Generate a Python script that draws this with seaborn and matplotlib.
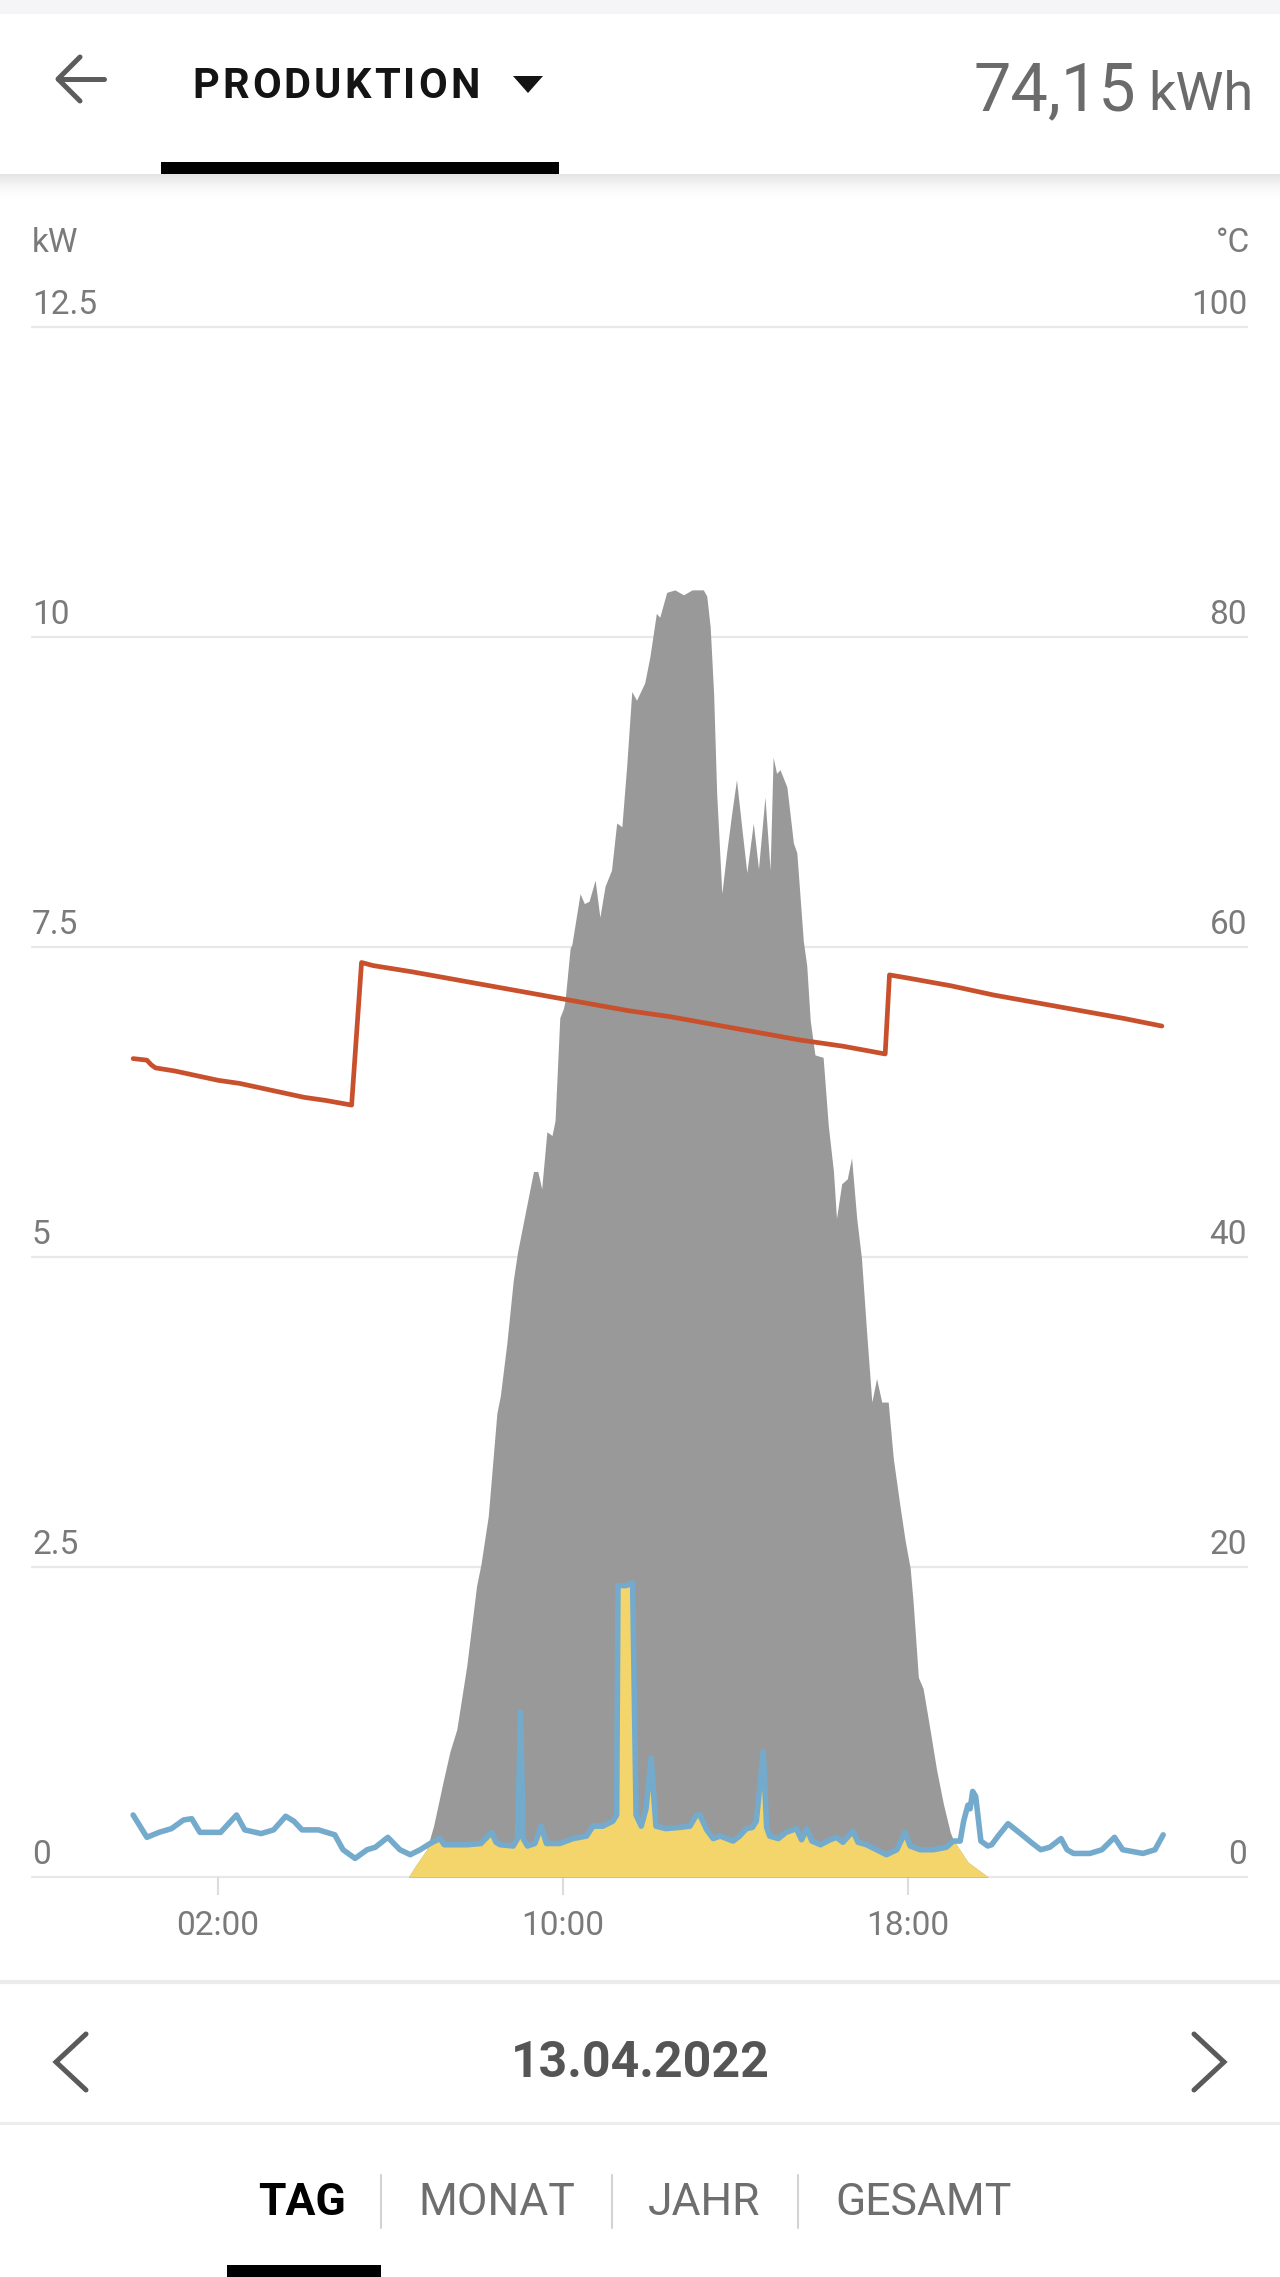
import matplotlib
matplotlib.use("Agg")
import matplotlib.pyplot as plt
import seaborn as sns
from matplotlib.patches import Rectangle, Polygon

# ---- values ----
kw_ticks = [0, 2.5, 5, 7.5, 10, 12.5]
kw_tick_labels = ["0", "2.5", "5", "7.5", "10", "12.5"]
temp_ticks = [0, 20, 40, 60, 80, 100]
temp_tick_labels = ["0", "20", "40", "60", "80", "100"]
hour_ticks = [2, 10, 18]
hour_tick_labels = ["02:00", "10:00", "18:00"]

# production (kW), grey area
prod_hours = [6.42, 6.60, 6.84, 7.00, 7.23, 7.38, 7.54, 7.77, 8.00, 8.10, 8.27, 8.47,
              8.55, 8.70, 8.85, 8.95, 9.16, 9.32, 9.42, 9.51, 9.63, 9.75, 9.82, 9.93,
              10.01, 10.05, 10.17, 10.21, 10.40, 10.50, 10.61, 10.75, 10.86, 10.98,
              11.13, 11.25, 11.37, 11.48, 11.60, 11.71, 11.90, 12.02, 12.17, 12.25,
              12.41, 12.60, 12.80, 13.00, 13.26, 13.34, 13.42, 13.50, 13.57, 13.69,
              13.80, 13.92, 14.03, 14.15, 14.27, 14.42, 14.54, 14.69, 14.81, 14.88,
              14.96, 15.04, 15.20, 15.35, 15.43, 15.58, 15.66, 15.74, 15.85, 16.04,
              16.16, 16.28, 16.35, 16.47, 16.60, 16.70, 16.82, 16.93, 17.05, 17.17,
              17.28, 17.40, 17.55, 17.67, 17.82, 17.94, 18.06, 18.13, 18.25, 18.36,
              18.52, 18.67, 18.83, 18.99, 19.06, 19.40, 19.87]
prod_kw = [0.0, 0.10, 0.22, 0.41, 0.78, 1.01, 1.19, 1.70, 2.35, 2.52, 2.91, 3.74,
           3.88, 4.30, 4.81, 5.04, 5.41, 5.69, 5.69, 5.55, 6.01, 5.98, 6.10, 6.93,
           7.00, 7.06, 7.49, 7.52, 7.93, 7.85, 7.87, 8.04, 7.74, 7.99,
           8.12, 8.50, 8.47, 8.95, 9.56, 9.49, 9.63, 9.84, 10.19, 10.16,
           10.36, 10.38, 10.34, 10.38, 10.38, 10.33, 10.08, 9.54, 8.74, 7.93,
           8.26, 8.58, 8.85, 8.47, 8.10, 8.50, 8.13, 8.71, 8.12, 9.03,
           8.90, 8.93, 8.79, 8.34, 8.26, 7.55, 7.35, 6.91, 6.63, 6.61,
           6.06, 5.69, 5.31, 5.59, 5.63, 5.80, 5.31, 4.99, 4.39, 3.83,
           4.02, 3.83, 3.83, 3.37, 3.00, 2.72, 2.49, 2.21, 1.61, 1.52,
           1.19, 0.87, 0.59, 0.36, 0.30, 0.12, 0.0]

# consumption (kW), blue line
cons_hours = [0.03, 0.35, 0.63, 0.92, 1.20, 1.39, 1.58, 2.06, 2.43, 2.62, 3.00, 3.29,
              3.57, 3.76, 3.95, 4.33, 4.71, 4.90, 5.18, 5.46, 5.65, 5.94, 6.22, 6.46,
              6.69, 6.92, 7.15, 7.25, 7.46, 7.77, 8.10, 8.35, 8.45, 8.55, 8.85, 8.95,
              9.02, 9.08, 9.18, 9.35, 9.50, 9.62, 9.93, 10.24, 10.55, 10.70, 10.93,
              11.16, 11.25, 11.28, 11.47, 11.62, 11.70, 11.82, 11.93, 12.05, 12.16,
              12.39, 12.70, 12.95, 13.10, 13.18, 13.34, 13.49, 13.65, 13.80, 13.95,
              14.10, 14.26, 14.40, 14.49, 14.65, 14.73, 14.80, 15.00, 15.18, 15.42,
              15.54, 15.66, 15.78, 15.98, 16.20, 16.35, 16.50, 16.73, 16.85, 17.05,
              17.28, 17.51, 17.75, 17.94, 18.06, 18.29, 18.60, 18.90, 19.06, 19.22,
              19.30, 19.40, 19.45, 19.51, 19.58, 19.70, 19.86, 19.95, 20.10, 20.33,
              20.62, 20.90, 21.09, 21.30, 21.56, 21.70, 21.85, 22.23, 22.51, 22.80,
              22.99, 23.46, 23.74, 23.93]
cons_kw = [0.50, 0.32, 0.36, 0.39, 0.46, 0.47, 0.36, 0.36, 0.50, 0.38, 0.35, 0.38,
           0.49, 0.45, 0.38, 0.38, 0.34, 0.22, 0.15, 0.22, 0.24, 0.32, 0.22, 0.18,
           0.22, 0.27, 0.31, 0.26, 0.26, 0.26, 0.27, 0.36, 0.28, 0.26, 0.25, 0.31,
           1.33, 0.31, 0.25, 0.27, 0.41, 0.27, 0.27, 0.31, 0.33, 0.41, 0.41,
           0.45, 0.50, 2.35, 2.35, 2.37, 0.50, 0.41, 0.55, 0.96, 0.41,
           0.39, 0.40, 0.41, 0.50, 0.50, 0.38, 0.31, 0.33, 0.31, 0.29,
           0.33, 0.39, 0.40, 0.45, 1.01, 0.40, 0.33, 0.31, 0.36, 0.39,
           0.30, 0.39, 0.29, 0.26, 0.30, 0.32, 0.28, 0.37, 0.28, 0.26,
           0.22, 0.18, 0.22, 0.36, 0.25, 0.22, 0.22, 0.24, 0.29, 0.29,
           0.45, 0.58, 0.55, 0.69, 0.65, 0.29, 0.25, 0.26, 0.33, 0.43,
           0.35, 0.27, 0.22, 0.24, 0.31, 0.22, 0.19, 0.19, 0.22, 0.32,
           0.22, 0.19, 0.22, 0.34]

# temperature (degC), right axis, orange line
temp_hours = [0.03, 0.35, 0.45, 0.55, 1.0, 1.5, 2.0, 2.5, 3.0, 3.5, 4.0, 4.5, 5.10,
              5.33, 5.6, 6.5, 7.5, 8.5, 9.5, 10.5, 11.5, 12.5, 13.5, 14.5, 15.5,
              16.5, 17.48, 17.58, 18.0, 19.0, 20.0, 21.0, 22.0, 23.0, 23.9]
temp_c = [52.8, 52.7, 52.4, 52.2, 52.0, 51.7, 51.4, 51.2, 50.9, 50.6, 50.3, 50.1, 49.8,
          59.0, 58.8, 58.4, 57.9, 57.4, 56.9, 56.4, 55.9, 55.5, 55.0, 54.5, 54.0,
          53.6, 53.1, 58.2, 58.0, 57.5, 56.9, 56.4, 55.9, 55.4, 54.9]

title = "PRODUKTION"
total_value = "74,15"
total_unit = "kWh"
date_label = "13.04.2022"
tabs = ["TAG", "MONAT", "JAHR", "GESAMT"]

GRAY = "#999999"
YELLOW = "#f4d56c"
BLUE = "#74abcd"
ORANGE = "#c9502c"
GRID = "#e8e8e8"
TICK = "#7a7a7a"

sns.set_theme(style="white")
plt.rcParams["font.family"] = ["Roboto", "DejaVu Sans"]

W, H = 1280, 2277
fig = plt.figure(figsize=(W / 100, H / 100), dpi=100)
fig.patch.set_facecolor("white")

# full-figure overlay in pixel coords for the app chrome
ui = fig.add_axes([0, 0, 1, 1])
ui.set_xlim(0, W)
ui.set_ylim(H, 0)
ui.axis("off")
ui.patch.set_visible(False)

# chart axes: gridline x-span 32..1247 px, y 327..1877 px
ax = fig.add_axes([32 / W, 1 - 1877 / H, (1247 - 32) / W, (1877 - 327) / H])
ax.set_xlim(-2.316, 25.875)
ax.set_ylim(0, 12.5)
for s in ax.spines.values():
    s.set_visible(False)
ax.patch.set_visible(False)

for v in kw_ticks:
    ax.axhline(v, color=GRID, lw=1.6, zorder=0, clip_on=False)

ax.fill_between(prod_hours, 0, prod_kw, color=GRAY, lw=0, zorder=1)
cons_area = ax.fill_between(cons_hours, 0, cons_kw, color="none", lw=0)
self_use = ax.fill_between(prod_hours, 0, prod_kw, color=YELLOW, lw=0, zorder=2)
self_use.set_clip_path(cons_area.get_paths()[0], ax.transData)
sns.lineplot(x=cons_hours, y=cons_kw, ax=ax, color=BLUE, linewidth=4.0, zorder=3)

ax.set_yticks([])
ax.set_xticks(hour_ticks)
ax.tick_params(axis="x", bottom=True, length=13, width=1.5, color="#dcdcdc",
               labelbottom=False, direction="out")
ax.set_xlabel("")
ax.set_ylabel("")

for v, lbl in zip(kw_ticks, kw_tick_labels):
    ax.annotate(lbl, xy=(0, v), xycoords=("axes fraction", "data"),
                xytext=(0, 13 * 0.72), textcoords="offset points",
                ha="left", va="baseline", fontsize=24, color=TICK, annotation_clip=False)
for h, lbl in zip(hour_ticks, hour_tick_labels):
    ax.annotate(lbl, xy=(h, 0), xycoords=("data", "axes fraction"),
                xytext=(0, -58 * 0.72), textcoords="offset points",
                ha="center", va="baseline", fontsize=24, color=TICK, annotation_clip=False)

ax2 = ax.twinx()
ax2.set_ylim(0, 100)
for s in ax2.spines.values():
    s.set_visible(False)
sns.lineplot(x=temp_hours, y=temp_c, ax=ax2, color=ORANGE, linewidth=3.4)
ax2.set_yticks([])
ax2.set_ylabel("")
for v, lbl in zip(temp_ticks, temp_tick_labels):
    ax2.annotate(lbl, xy=(1, v), xycoords=("axes fraction", "data"),
                 xytext=(0, 13 * 0.72), textcoords="offset points",
                 ha="right", va="baseline", fontsize=24, color=TICK, annotation_clip=False)

# ---- header ----
ui.add_patch(Rectangle((0, 0), W, 14, color="#f5f5f7", lw=0))
for i in range(12):
    ui.add_patch(Rectangle((0, 174 + 2 * i), W, 2, color="black",
                           alpha=0.10 * (1 - i / 12) ** 1.5, lw=0))
arrow_kw = dict(color="#5c5c5c", lw=3.6, solid_capstyle="round")
ui.plot([58, 104], [79, 79], **arrow_kw)
ui.plot([80, 58, 80], [57, 79, 101], **arrow_kw)

renderer = fig.canvas.get_renderer()
x = 192
for ch in title:
    t = ui.text(x, 98, ch, ha="left", va="baseline", fontsize=30,
                fontweight="bold", color="#141414")
    x += t.get_window_extent(renderer=renderer).width + 3.2
ui.add_patch(Polygon([(513, 76), (543, 76), (528, 93)], closed=True, color="#141414", lw=0))
ui.add_patch(Rectangle((161, 162), 398, 12, color="black", lw=0))

ui.text(1253, 110, total_unit, ha="right", va="baseline", fontsize=39, color="#6b6b6b")
ui.text(1136, 110, total_value, ha="right", va="baseline", fontsize=48, color="#6b6b6b")

ui.text(32, 252, "kW", ha="left", va="baseline", fontsize=24, color=TICK)
ui.text(1250, 252, "°C", ha="right", va="baseline", fontsize=24, color=TICK)

# ---- date navigation ----
ui.plot([0, W], [1982, 1982], color="#ebebeb", lw=3)
ui.plot([0, W], [2123, 2123], color="#ededed", lw=2.2)
chev_kw = dict(color="#5a5a5a", lw=3.6, solid_capstyle="round", solid_joinstyle="miter")
ui.plot([86, 56, 86], [2034, 2062, 2090], **chev_kw)
ui.plot([1194, 1224, 1194], [2034, 2062, 2090], **chev_kw)
ui.text(640, 2077, date_label, ha="center", va="baseline", fontsize=36,
        fontweight="bold", color="#555555")

# ---- period tabs ----
tab_x = [302, 497, 704, 924]
for i, (tx, lbl) in enumerate(zip(tab_x, tabs)):
    ui.text(tx, 2215, lbl, ha="center", va="baseline", fontsize=32,
            fontweight="bold" if i == 0 else "normal",
            color="#000000" if i == 0 else "#6e6e6e")
for sx in [381, 612, 798]:
    ui.plot([sx, sx], [2175, 2228], color="#d3d3d3", lw=1.5)
ui.add_patch(Rectangle((227, 2265), 154, 12, color="black", lw=0))

fig.savefig("out.png", dpi=100)
